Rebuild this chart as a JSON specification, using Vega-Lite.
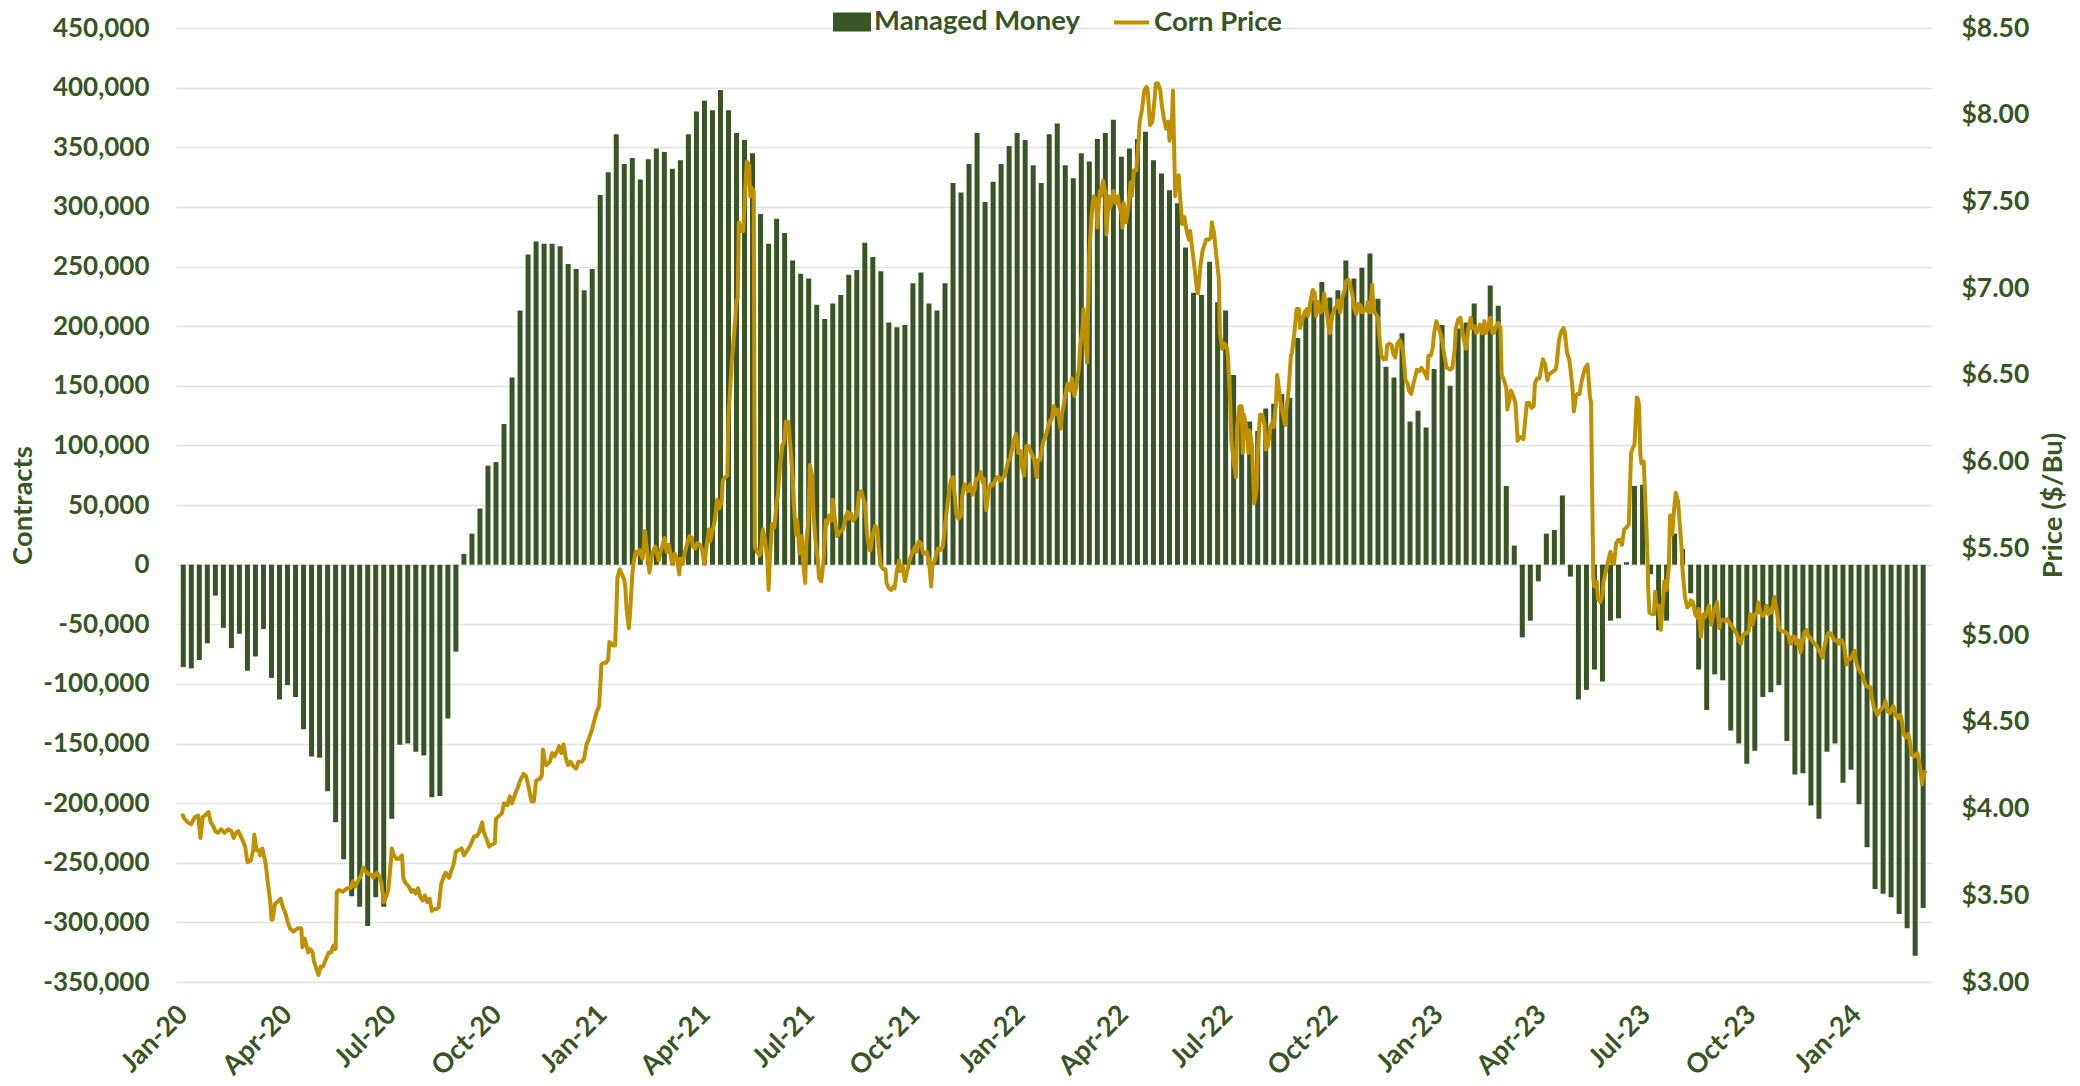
{
  "$schema": "https://vega.github.io/schema/vega-lite/v6.json",
  "width": 1756,
  "height": 954,
  "autosize": {"type": "none"},
  "padding": {"left": 176, "top": 28, "right": 148, "bottom": 104},
  "background": "white",
  "config": {"font": "Lato", "view": {"stroke": null}},
  "datasets": {
    "mm": [
      {"date":"2020-01-07","contracts":-86000},{"date":"2020-01-14","contracts":-87000},{"date":"2020-01-21","contracts":-80000},{"date":"2020-01-28","contracts":-66000},
      {"date":"2020-02-04","contracts":-26000},{"date":"2020-02-11","contracts":-53000},{"date":"2020-02-18","contracts":-70000},{"date":"2020-02-25","contracts":-58000},
      {"date":"2020-03-03","contracts":-89000},{"date":"2020-03-10","contracts":-77000},{"date":"2020-03-17","contracts":-54000},{"date":"2020-03-24","contracts":-95000},{"date":"2020-03-31","contracts":-113000},
      {"date":"2020-04-07","contracts":-101000},{"date":"2020-04-14","contracts":-111000},{"date":"2020-04-21","contracts":-138000},{"date":"2020-04-28","contracts":-161000},
      {"date":"2020-05-05","contracts":-162000},{"date":"2020-05-12","contracts":-190000},{"date":"2020-05-19","contracts":-216000},{"date":"2020-05-26","contracts":-247000},
      {"date":"2020-06-02","contracts":-278000},{"date":"2020-06-09","contracts":-287000},{"date":"2020-06-16","contracts":-303000},{"date":"2020-06-23","contracts":-279000},{"date":"2020-06-30","contracts":-287000},
      {"date":"2020-07-07","contracts":-213000},{"date":"2020-07-14","contracts":-151000},{"date":"2020-07-21","contracts":-150000},{"date":"2020-07-28","contracts":-157000},
      {"date":"2020-08-04","contracts":-160000},{"date":"2020-08-11","contracts":-195000},{"date":"2020-08-18","contracts":-194000},{"date":"2020-08-25","contracts":-129000},
      {"date":"2020-09-01","contracts":-73000},{"date":"2020-09-08","contracts":9000},{"date":"2020-09-15","contracts":26000},{"date":"2020-09-22","contracts":47000},{"date":"2020-09-29","contracts":83000},
      {"date":"2020-10-06","contracts":86000},{"date":"2020-10-13","contracts":118000},{"date":"2020-10-20","contracts":157000},{"date":"2020-10-27","contracts":213000},
      {"date":"2020-11-03","contracts":260000},{"date":"2020-11-10","contracts":271000},{"date":"2020-11-17","contracts":269000},{"date":"2020-11-24","contracts":269000},
      {"date":"2020-12-01","contracts":267000},{"date":"2020-12-08","contracts":252000},{"date":"2020-12-15","contracts":248000},{"date":"2020-12-22","contracts":230000},{"date":"2020-12-29","contracts":248000},
      {"date":"2021-01-05","contracts":310000},{"date":"2021-01-12","contracts":329000},{"date":"2021-01-19","contracts":361000},{"date":"2021-01-26","contracts":336000},
      {"date":"2021-02-02","contracts":341000},{"date":"2021-02-09","contracts":323000},{"date":"2021-02-16","contracts":340000},{"date":"2021-02-23","contracts":349000},
      {"date":"2021-03-02","contracts":346000},{"date":"2021-03-09","contracts":332000},{"date":"2021-03-16","contracts":339000},{"date":"2021-03-23","contracts":361000},{"date":"2021-03-30","contracts":380000},
      {"date":"2021-04-06","contracts":389000},{"date":"2021-04-13","contracts":381000},{"date":"2021-04-20","contracts":398000},{"date":"2021-04-27","contracts":381000},
      {"date":"2021-05-04","contracts":362000},{"date":"2021-05-11","contracts":356000},{"date":"2021-05-18","contracts":345000},{"date":"2021-05-25","contracts":294000},
      {"date":"2021-06-01","contracts":269000},{"date":"2021-06-08","contracts":290000},{"date":"2021-06-15","contracts":278000},{"date":"2021-06-22","contracts":255000},{"date":"2021-06-29","contracts":244000},
      {"date":"2021-07-06","contracts":240000},{"date":"2021-07-13","contracts":218000},{"date":"2021-07-20","contracts":206000},{"date":"2021-07-27","contracts":219000},
      {"date":"2021-08-03","contracts":226000},{"date":"2021-08-10","contracts":243000},{"date":"2021-08-17","contracts":247000},{"date":"2021-08-24","contracts":270000},{"date":"2021-08-31","contracts":258000},
      {"date":"2021-09-07","contracts":246000},{"date":"2021-09-14","contracts":203000},{"date":"2021-09-21","contracts":199000},{"date":"2021-09-28","contracts":201000},
      {"date":"2021-10-05","contracts":236000},{"date":"2021-10-12","contracts":245000},{"date":"2021-10-19","contracts":219000},{"date":"2021-10-26","contracts":213000},
      {"date":"2021-11-02","contracts":236000},{"date":"2021-11-09","contracts":320000},{"date":"2021-11-16","contracts":312000},{"date":"2021-11-23","contracts":336000},{"date":"2021-11-30","contracts":362000},
      {"date":"2021-12-07","contracts":304000},{"date":"2021-12-14","contracts":321000},{"date":"2021-12-21","contracts":336000},{"date":"2021-12-28","contracts":351000},
      {"date":"2022-01-04","contracts":362000},{"date":"2022-01-11","contracts":356000},{"date":"2022-01-18","contracts":335000},{"date":"2022-01-25","contracts":320000},
      {"date":"2022-02-01","contracts":361000},{"date":"2022-02-08","contracts":370000},{"date":"2022-02-15","contracts":335000},{"date":"2022-02-22","contracts":324000},
      {"date":"2022-03-01","contracts":345000},{"date":"2022-03-08","contracts":338000},{"date":"2022-03-15","contracts":357000},{"date":"2022-03-22","contracts":362000},{"date":"2022-03-29","contracts":373000},
      {"date":"2022-04-05","contracts":342000},{"date":"2022-04-12","contracts":349000},{"date":"2022-04-19","contracts":357000},{"date":"2022-04-26","contracts":363000},
      {"date":"2022-05-03","contracts":339000},{"date":"2022-05-10","contracts":328000},{"date":"2022-05-17","contracts":314000},{"date":"2022-05-24","contracts":303000},{"date":"2022-05-31","contracts":266000},
      {"date":"2022-06-07","contracts":228000},{"date":"2022-06-14","contracts":226000},{"date":"2022-06-21","contracts":254000},{"date":"2022-06-28","contracts":220000},
      {"date":"2022-07-05","contracts":213000},{"date":"2022-07-12","contracts":159000},{"date":"2022-07-19","contracts":130000},{"date":"2022-07-26","contracts":120000},
      {"date":"2022-08-02","contracts":112000},{"date":"2022-08-09","contracts":131000},{"date":"2022-08-16","contracts":135000},{"date":"2022-08-23","contracts":143000},{"date":"2022-08-30","contracts":140000},
      {"date":"2022-09-06","contracts":190000},{"date":"2022-09-13","contracts":210000},{"date":"2022-09-20","contracts":222000},{"date":"2022-09-27","contracts":237000},
      {"date":"2022-10-04","contracts":224000},{"date":"2022-10-11","contracts":230000},{"date":"2022-10-18","contracts":255000},{"date":"2022-10-25","contracts":240000},
      {"date":"2022-11-01","contracts":249000},{"date":"2022-11-08","contracts":261000},{"date":"2022-11-15","contracts":223000},{"date":"2022-11-22","contracts":166000},{"date":"2022-11-29","contracts":157000},
      {"date":"2022-12-06","contracts":194000},{"date":"2022-12-13","contracts":120000},{"date":"2022-12-20","contracts":129000},{"date":"2022-12-27","contracts":115000},
      {"date":"2023-01-03","contracts":164000},{"date":"2023-01-10","contracts":201000},{"date":"2023-01-17","contracts":150000},{"date":"2023-01-24","contracts":198000},{"date":"2023-01-31","contracts":203000},
      {"date":"2023-02-07","contracts":219000},{"date":"2023-02-14","contracts":196000},{"date":"2023-02-21","contracts":234000},{"date":"2023-02-28","contracts":217000},
      {"date":"2023-03-07","contracts":66000},{"date":"2023-03-14","contracts":16000},{"date":"2023-03-21","contracts":-61000},{"date":"2023-03-28","contracts":-47000},
      {"date":"2023-04-04","contracts":-14000},{"date":"2023-04-11","contracts":26000},{"date":"2023-04-18","contracts":29000},{"date":"2023-04-25","contracts":58000},
      {"date":"2023-05-02","contracts":-10000},{"date":"2023-05-09","contracts":-113000},{"date":"2023-05-16","contracts":-105000},{"date":"2023-05-23","contracts":-88000},{"date":"2023-05-30","contracts":-98000},
      {"date":"2023-06-06","contracts":-47000},{"date":"2023-06-13","contracts":-45000},{"date":"2023-06-20","contracts":2000},{"date":"2023-06-27","contracts":66000},
      {"date":"2023-07-04","contracts":67000},{"date":"2023-07-11","contracts":-8000},{"date":"2023-07-18","contracts":-55000},{"date":"2023-07-25","contracts":-47000},
      {"date":"2023-08-01","contracts":26000},{"date":"2023-08-08","contracts":13000},{"date":"2023-08-15","contracts":-24000},{"date":"2023-08-22","contracts":-88000},{"date":"2023-08-29","contracts":-122000},
      {"date":"2023-09-05","contracts":-92000},{"date":"2023-09-12","contracts":-97000},{"date":"2023-09-19","contracts":-139000},{"date":"2023-09-26","contracts":-150000},
      {"date":"2023-10-03","contracts":-167000},{"date":"2023-10-10","contracts":-156000},{"date":"2023-10-17","contracts":-111000},{"date":"2023-10-24","contracts":-107000},{"date":"2023-10-31","contracts":-101000},
      {"date":"2023-11-07","contracts":-148000},{"date":"2023-11-14","contracts":-176000},{"date":"2023-11-21","contracts":-175000},{"date":"2023-11-28","contracts":-202000},
      {"date":"2023-12-05","contracts":-213000},{"date":"2023-12-12","contracts":-157000},{"date":"2023-12-19","contracts":-150000},{"date":"2023-12-26","contracts":-183000},
      {"date":"2024-01-02","contracts":-172000},{"date":"2024-01-09","contracts":-201000},{"date":"2024-01-16","contracts":-237000},{"date":"2024-01-23","contracts":-272000},{"date":"2024-01-30","contracts":-276000},
      {"date":"2024-02-06","contracts":-279000},{"date":"2024-02-13","contracts":-293000},{"date":"2024-02-20","contracts":-305000},{"date":"2024-02-27","contracts":-328000},
      {"date":"2024-03-05","contracts":-288000}
    ],
    "corn": [
      {"date":"2020-01-06","price":3.97},{"date":"2020-01-08","price":3.94},{"date":"2020-01-11","price":3.92},{"date":"2020-01-14","price":3.91},{"date":"2020-01-17","price":3.95},{"date":"2020-01-20","price":3.96},{"date":"2020-01-22","price":3.83},{"date":"2020-01-24","price":3.95},{"date":"2020-01-26","price":3.96},{"date":"2020-01-29","price":3.98},{"date":"2020-01-31","price":3.92},
      {"date":"2020-02-02","price":3.90},{"date":"2020-02-04","price":3.87},{"date":"2020-02-06","price":3.86},{"date":"2020-02-09","price":3.88},{"date":"2020-02-12","price":3.86},{"date":"2020-02-15","price":3.88},{"date":"2020-02-18","price":3.87},{"date":"2020-02-20","price":3.83},{"date":"2020-02-22","price":3.86},{"date":"2020-02-24","price":3.87},{"date":"2020-02-27","price":3.83},
      {"date":"2020-03-01","price":3.78},{"date":"2020-03-03","price":3.69},{"date":"2020-03-06","price":3.70},{"date":"2020-03-08","price":3.76},{"date":"2020-03-09","price":3.85},{"date":"2020-03-11","price":3.76},{"date":"2020-03-13","price":3.76},{"date":"2020-03-14","price":3.73},{"date":"2020-03-16","price":3.77},{"date":"2020-03-19","price":3.68},{"date":"2020-03-21","price":3.56},{"date":"2020-03-23","price":3.46},{"date":"2020-03-24","price":3.36},{"date":"2020-03-25","price":3.36},{"date":"2020-03-27","price":3.45},{"date":"2020-03-29","price":3.46},
      {"date":"2020-04-01","price":3.48},{"date":"2020-04-03","price":3.43},{"date":"2020-04-05","price":3.40},{"date":"2020-04-07","price":3.35},{"date":"2020-04-09","price":3.31},{"date":"2020-04-12","price":3.29},{"date":"2020-04-14","price":3.30},{"date":"2020-04-16","price":3.31},{"date":"2020-04-19","price":3.31},{"date":"2020-04-20","price":3.20},{"date":"2020-04-22","price":3.25},{"date":"2020-04-25","price":3.17},{"date":"2020-04-27","price":3.19},{"date":"2020-04-29","price":3.17},{"date":"2020-04-30","price":3.12},
      {"date":"2020-05-03","price":3.06},{"date":"2020-05-04","price":3.04},{"date":"2020-05-06","price":3.09},{"date":"2020-05-08","price":3.09},{"date":"2020-05-11","price":3.14},{"date":"2020-05-13","price":3.17},{"date":"2020-05-15","price":3.17},{"date":"2020-05-17","price":3.21},{"date":"2020-05-19","price":3.19},{"date":"2020-05-20","price":3.52},{"date":"2020-05-22","price":3.53},{"date":"2020-05-25","price":3.52},{"date":"2020-05-27","price":3.53},{"date":"2020-05-29","price":3.54},
      {"date":"2020-06-01","price":3.54},{"date":"2020-06-03","price":3.58},{"date":"2020-06-05","price":3.55},{"date":"2020-06-08","price":3.59},{"date":"2020-06-10","price":3.61},{"date":"2020-06-12","price":3.66},{"date":"2020-06-14","price":3.64},{"date":"2020-06-17","price":3.62},{"date":"2020-06-19","price":3.62},{"date":"2020-06-21","price":3.60},{"date":"2020-06-24","price":3.63},{"date":"2020-06-26","price":3.61},{"date":"2020-06-28","price":3.57},{"date":"2020-06-30","price":3.46},
      {"date":"2020-07-02","price":3.49},{"date":"2020-07-04","price":3.53},{"date":"2020-07-06","price":3.68},{"date":"2020-07-07","price":3.77},{"date":"2020-07-09","price":3.73},{"date":"2020-07-11","price":3.71},{"date":"2020-07-13","price":3.71},{"date":"2020-07-16","price":3.73},{"date":"2020-07-17","price":3.60},{"date":"2020-07-19","price":3.57},{"date":"2020-07-22","price":3.55},{"date":"2020-07-24","price":3.52},{"date":"2020-07-26","price":3.53},{"date":"2020-07-28","price":3.51},{"date":"2020-07-30","price":3.54},
      {"date":"2020-08-01","price":3.49},{"date":"2020-08-03","price":3.47},{"date":"2020-08-05","price":3.50},{"date":"2020-08-07","price":3.46},{"date":"2020-08-09","price":3.48},{"date":"2020-08-11","price":3.41},{"date":"2020-08-12","price":3.42},{"date":"2020-08-15","price":3.42},{"date":"2020-08-17","price":3.43},{"date":"2020-08-19","price":3.56},{"date":"2020-08-21","price":3.60},{"date":"2020-08-23","price":3.63},{"date":"2020-08-26","price":3.60},{"date":"2020-08-28","price":3.64},{"date":"2020-08-30","price":3.68},
      {"date":"2020-09-01","price":3.75},{"date":"2020-09-03","price":3.76},{"date":"2020-09-06","price":3.77},{"date":"2020-09-08","price":3.73},{"date":"2020-09-10","price":3.75},{"date":"2020-09-13","price":3.78},{"date":"2020-09-15","price":3.81},{"date":"2020-09-17","price":3.84},{"date":"2020-09-19","price":3.84},{"date":"2020-09-21","price":3.86},{"date":"2020-09-24","price":3.92},{"date":"2020-09-25","price":3.87},{"date":"2020-09-28","price":3.82},{"date":"2020-09-30","price":3.78},
      {"date":"2020-10-02","price":3.79},{"date":"2020-10-05","price":3.80},{"date":"2020-10-06","price":3.94},{"date":"2020-10-09","price":3.96},{"date":"2020-10-11","price":3.97},{"date":"2020-10-13","price":4.03},{"date":"2020-10-16","price":4.02},{"date":"2020-10-18","price":4.07},{"date":"2020-10-20","price":4.03},{"date":"2020-10-23","price":4.09},{"date":"2020-10-25","price":4.12},{"date":"2020-10-27","price":4.16},{"date":"2020-10-30","price":4.20},
      {"date":"2020-11-01","price":4.19},{"date":"2020-11-03","price":4.14},{"date":"2020-11-06","price":4.04},{"date":"2020-11-08","price":4.04},{"date":"2020-11-10","price":4.16},{"date":"2020-11-13","price":4.17},{"date":"2020-11-15","price":4.19},{"date":"2020-11-16","price":4.34},{"date":"2020-11-18","price":4.26},{"date":"2020-11-19","price":4.25},{"date":"2020-11-22","price":4.27},{"date":"2020-11-24","price":4.32},{"date":"2020-11-26","price":4.30},{"date":"2020-11-29","price":4.34},{"date":"2020-11-30","price":4.36},
      {"date":"2020-12-02","price":4.32},{"date":"2020-12-04","price":4.37},{"date":"2020-12-06","price":4.29},{"date":"2020-12-08","price":4.25},{"date":"2020-12-10","price":4.27},{"date":"2020-12-13","price":4.24},{"date":"2020-12-15","price":4.23},{"date":"2020-12-17","price":4.27},{"date":"2020-12-20","price":4.27},{"date":"2020-12-22","price":4.29},{"date":"2020-12-24","price":4.37},{"date":"2020-12-26","price":4.40},{"date":"2020-12-29","price":4.46},{"date":"2020-12-31","price":4.51},
      {"date":"2021-01-02","price":4.56},{"date":"2021-01-04","price":4.59},{"date":"2021-01-05","price":4.70},{"date":"2021-01-06","price":4.83},{"date":"2021-01-08","price":4.84},{"date":"2021-01-10","price":4.84},{"date":"2021-01-12","price":4.86},{"date":"2021-01-13","price":4.96},{"date":"2021-01-15","price":4.95},{"date":"2021-01-16","price":4.94},{"date":"2021-01-18","price":4.94},{"date":"2021-01-19","price":5.12},{"date":"2021-01-20","price":5.33},{"date":"2021-01-22","price":5.38},{"date":"2021-01-24","price":5.35},{"date":"2021-01-26","price":5.32},{"date":"2021-01-27","price":5.27},{"date":"2021-01-28","price":5.15},{"date":"2021-01-30","price":5.04},{"date":"2021-01-31","price":5.12},
      {"date":"2021-02-02","price":5.35},{"date":"2021-02-03","price":5.41},{"date":"2021-02-05","price":5.48},{"date":"2021-02-07","price":5.47},{"date":"2021-02-08","price":5.49},{"date":"2021-02-11","price":5.44},{"date":"2021-02-13","price":5.60},{"date":"2021-02-15","price":5.48},{"date":"2021-02-17","price":5.36},{"date":"2021-02-18","price":5.41},{"date":"2021-02-20","price":5.48},{"date":"2021-02-22","price":5.51},{"date":"2021-02-24","price":5.46},{"date":"2021-02-25","price":5.43},{"date":"2021-02-27","price":5.49},
      {"date":"2021-03-01","price":5.53},{"date":"2021-03-02","price":5.56},{"date":"2021-03-04","price":5.48},{"date":"2021-03-06","price":5.52},{"date":"2021-03-08","price":5.44},{"date":"2021-03-09","price":5.41},{"date":"2021-03-11","price":5.47},{"date":"2021-03-13","price":5.44},{"date":"2021-03-15","price":5.35},{"date":"2021-03-16","price":5.44},{"date":"2021-03-18","price":5.41},{"date":"2021-03-20","price":5.48},{"date":"2021-03-22","price":5.53},{"date":"2021-03-24","price":5.57},{"date":"2021-03-26","price":5.56},{"date":"2021-03-27","price":5.51},{"date":"2021-03-29","price":5.50},{"date":"2021-03-31","price":5.53},
      {"date":"2021-04-02","price":5.52},{"date":"2021-04-04","price":5.49},{"date":"2021-04-06","price":5.41},{"date":"2021-04-08","price":5.52},{"date":"2021-04-10","price":5.61},{"date":"2021-04-11","price":5.54},{"date":"2021-04-13","price":5.60},{"date":"2021-04-15","price":5.66},{"date":"2021-04-17","price":5.78},{"date":"2021-04-19","price":5.73},{"date":"2021-04-21","price":5.77},{"date":"2021-04-22","price":5.89},{"date":"2021-04-24","price":5.91},{"date":"2021-04-26","price":5.92},{"date":"2021-04-27","price":6.27},{"date":"2021-04-29","price":6.48},{"date":"2021-04-30","price":6.59},
      {"date":"2021-05-02","price":6.74},{"date":"2021-05-04","price":6.93},{"date":"2021-05-05","price":6.94},{"date":"2021-05-06","price":7.38},{"date":"2021-05-08","price":7.33},{"date":"2021-05-10","price":7.33},{"date":"2021-05-11","price":7.49},{"date":"2021-05-13","price":7.73},{"date":"2021-05-15","price":7.71},{"date":"2021-05-16","price":7.53},{"date":"2021-05-17","price":7.58},{"date":"2021-05-19","price":7.56},{"date":"2021-05-20","price":5.51},{"date":"2021-05-22","price":5.48},{"date":"2021-05-24","price":5.46},{"date":"2021-05-25","price":5.47},{"date":"2021-05-27","price":5.61},{"date":"2021-05-29","price":5.54},{"date":"2021-05-31","price":5.43},
      {"date":"2021-06-01","price":5.26},{"date":"2021-06-02","price":5.43},{"date":"2021-06-04","price":5.64},{"date":"2021-06-06","price":5.62},{"date":"2021-06-08","price":5.76},{"date":"2021-06-09","price":5.80},{"date":"2021-06-11","price":5.98},{"date":"2021-06-13","price":6.09},{"date":"2021-06-15","price":6.13},{"date":"2021-06-16","price":6.23},{"date":"2021-06-18","price":6.23},{"date":"2021-06-20","price":6.09},{"date":"2021-06-22","price":5.91},{"date":"2021-06-23","price":5.76},{"date":"2021-06-25","price":5.58},{"date":"2021-06-26","price":5.66},{"date":"2021-06-28","price":5.47},{"date":"2021-06-30","price":5.57},
      {"date":"2021-07-01","price":5.43},{"date":"2021-07-03","price":5.30},{"date":"2021-07-04","price":5.54},{"date":"2021-07-06","price":5.69},{"date":"2021-07-07","price":5.98},{"date":"2021-07-09","price":5.92},{"date":"2021-07-10","price":5.72},{"date":"2021-07-12","price":5.54},{"date":"2021-07-14","price":5.43},{"date":"2021-07-15","price":5.33},{"date":"2021-07-17","price":5.31},{"date":"2021-07-19","price":5.43},{"date":"2021-07-21","price":5.66},{"date":"2021-07-22","price":5.64},{"date":"2021-07-24","price":5.69},{"date":"2021-07-26","price":5.66},{"date":"2021-07-27","price":5.78},{"date":"2021-07-29","price":5.66},{"date":"2021-07-31","price":5.57},
      {"date":"2021-08-02","price":5.59},{"date":"2021-08-03","price":5.60},{"date":"2021-08-05","price":5.61},{"date":"2021-08-07","price":5.68},{"date":"2021-08-09","price":5.71},{"date":"2021-08-10","price":5.67},{"date":"2021-08-12","price":5.70},{"date":"2021-08-14","price":5.66},{"date":"2021-08-16","price":5.68},{"date":"2021-08-17","price":5.69},{"date":"2021-08-19","price":5.82},{"date":"2021-08-21","price":5.83},{"date":"2021-08-22","price":5.80},{"date":"2021-08-24","price":5.76},{"date":"2021-08-26","price":5.58},{"date":"2021-08-28","price":5.49},{"date":"2021-08-29","price":5.49},{"date":"2021-08-31","price":5.58},
      {"date":"2021-09-02","price":5.63},{"date":"2021-09-04","price":5.61},{"date":"2021-09-05","price":5.51},{"date":"2021-09-07","price":5.40},{"date":"2021-09-09","price":5.38},{"date":"2021-09-11","price":5.38},{"date":"2021-09-12","price":5.30},{"date":"2021-09-14","price":5.27},{"date":"2021-09-16","price":5.26},{"date":"2021-09-18","price":5.28},{"date":"2021-09-19","price":5.27},{"date":"2021-09-21","price":5.37},{"date":"2021-09-23","price":5.43},{"date":"2021-09-24","price":5.37},{"date":"2021-09-26","price":5.40},{"date":"2021-09-28","price":5.31},{"date":"2021-09-30","price":5.37},
      {"date":"2021-10-01","price":5.40},{"date":"2021-10-03","price":5.45},{"date":"2021-10-05","price":5.48},{"date":"2021-10-07","price":5.51},{"date":"2021-10-08","price":5.48},{"date":"2021-10-10","price":5.54},{"date":"2021-10-12","price":5.53},{"date":"2021-10-14","price":5.47},{"date":"2021-10-15","price":5.47},{"date":"2021-10-17","price":5.48},{"date":"2021-10-19","price":5.43},{"date":"2021-10-21","price":5.28},{"date":"2021-10-22","price":5.40},{"date":"2021-10-24","price":5.43},{"date":"2021-10-26","price":5.48},{"date":"2021-10-27","price":5.50},{"date":"2021-10-29","price":5.49},{"date":"2021-10-31","price":5.51},
      {"date":"2021-11-02","price":5.62},{"date":"2021-11-03","price":5.69},{"date":"2021-11-05","price":5.80},{"date":"2021-11-07","price":5.89},{"date":"2021-11-09","price":5.91},{"date":"2021-11-10","price":5.84},{"date":"2021-11-12","price":5.69},{"date":"2021-11-14","price":5.67},{"date":"2021-11-16","price":5.69},{"date":"2021-11-17","price":5.80},{"date":"2021-11-19","price":5.87},{"date":"2021-11-21","price":5.84},{"date":"2021-11-22","price":5.83},{"date":"2021-11-24","price":5.87},{"date":"2021-11-26","price":5.81},{"date":"2021-11-28","price":5.84},{"date":"2021-11-29","price":5.90},
      {"date":"2021-12-01","price":5.90},{"date":"2021-12-03","price":5.94},{"date":"2021-12-05","price":5.88},{"date":"2021-12-06","price":5.90},{"date":"2021-12-08","price":5.72},{"date":"2021-12-10","price":5.83},{"date":"2021-12-12","price":5.87},{"date":"2021-12-13","price":5.86},{"date":"2021-12-15","price":5.88},{"date":"2021-12-17","price":5.91},{"date":"2021-12-19","price":5.91},{"date":"2021-12-20","price":5.89},{"date":"2021-12-22","price":5.90},{"date":"2021-12-24","price":5.92},{"date":"2021-12-25","price":5.94},{"date":"2021-12-27","price":6.00},{"date":"2021-12-29","price":6.02},{"date":"2021-12-31","price":6.09},
      {"date":"2022-01-01","price":6.12},{"date":"2022-01-03","price":6.16},{"date":"2022-01-05","price":6.05},{"date":"2022-01-07","price":6.06},{"date":"2022-01-08","price":5.98},{"date":"2022-01-10","price":5.92},{"date":"2022-01-12","price":6.09},{"date":"2022-01-14","price":6.09},{"date":"2022-01-15","price":6.07},{"date":"2022-01-17","price":6.04},{"date":"2022-01-19","price":6.01},{"date":"2022-01-21","price":5.91},{"date":"2022-01-22","price":6.01},{"date":"2022-01-24","price":6.01},{"date":"2022-01-26","price":6.09},{"date":"2022-01-27","price":6.12},{"date":"2022-01-29","price":6.15},{"date":"2022-01-31","price":6.20},
      {"date":"2022-02-02","price":6.24},{"date":"2022-02-03","price":6.24},{"date":"2022-02-05","price":6.32},{"date":"2022-02-06","price":6.27},{"date":"2022-02-08","price":6.30},{"date":"2022-02-10","price":6.23},{"date":"2022-02-11","price":6.19},{"date":"2022-02-12","price":6.27},{"date":"2022-02-14","price":6.34},{"date":"2022-02-16","price":6.42},{"date":"2022-02-17","price":6.45},{"date":"2022-02-19","price":6.41},{"date":"2022-02-21","price":6.48},{"date":"2022-02-22","price":6.41},{"date":"2022-02-23","price":6.38},{"date":"2022-02-25","price":6.45},{"date":"2022-02-27","price":6.54},{"date":"2022-02-28","price":6.66},
      {"date":"2022-03-02","price":6.77},{"date":"2022-03-03","price":6.88},{"date":"2022-03-04","price":6.77},{"date":"2022-03-06","price":6.57},{"date":"2022-03-07","price":6.88},{"date":"2022-03-08","price":7.20},{"date":"2022-03-10","price":7.42},{"date":"2022-03-11","price":7.49},{"date":"2022-03-12","price":7.53},{"date":"2022-03-14","price":7.51},{"date":"2022-03-15","price":7.35},{"date":"2022-03-17","price":7.56},{"date":"2022-03-18","price":7.53},{"date":"2022-03-20","price":7.62},{"date":"2022-03-22","price":7.55},{"date":"2022-03-23","price":7.31},{"date":"2022-03-25","price":7.53},{"date":"2022-03-26","price":7.46},{"date":"2022-03-28","price":7.51},{"date":"2022-03-29","price":7.56},{"date":"2022-03-31","price":7.49},
      {"date":"2022-04-02","price":7.53},{"date":"2022-04-03","price":7.48},{"date":"2022-04-05","price":7.43},{"date":"2022-04-06","price":7.35},{"date":"2022-04-07","price":7.49},{"date":"2022-04-09","price":7.38},{"date":"2022-04-11","price":7.46},{"date":"2022-04-13","price":7.61},{"date":"2022-04-14","price":7.53},{"date":"2022-04-16","price":7.68},{"date":"2022-04-18","price":7.68},{"date":"2022-04-20","price":7.85},{"date":"2022-04-21","price":7.96},{"date":"2022-04-23","price":8.03},{"date":"2022-04-25","price":8.14},{"date":"2022-04-27","price":8.16},{"date":"2022-04-28","price":8.14},{"date":"2022-04-30","price":7.94},
      {"date":"2022-05-02","price":7.96},{"date":"2022-05-04","price":8.09},{"date":"2022-05-05","price":8.18},{"date":"2022-05-07","price":8.18},{"date":"2022-05-09","price":8.14},{"date":"2022-05-10","price":8.07},{"date":"2022-05-12","price":7.98},{"date":"2022-05-14","price":7.92},{"date":"2022-05-16","price":7.96},{"date":"2022-05-17","price":7.85},{"date":"2022-05-19","price":7.92},{"date":"2022-05-20","price":8.14},{"date":"2022-05-21","price":7.82},{"date":"2022-05-22","price":7.53},{"date":"2022-05-23","price":7.62},{"date":"2022-05-25","price":7.65},{"date":"2022-05-27","price":7.46},{"date":"2022-05-28","price":7.37},{"date":"2022-05-30","price":7.41},
      {"date":"2022-06-01","price":7.33},{"date":"2022-06-03","price":7.28},{"date":"2022-06-04","price":7.33},{"date":"2022-06-06","price":7.22},{"date":"2022-06-08","price":7.11},{"date":"2022-06-10","price":6.99},{"date":"2022-06-11","price":6.97},{"date":"2022-06-13","price":7.13},{"date":"2022-06-15","price":7.22},{"date":"2022-06-17","price":7.26},{"date":"2022-06-18","price":7.28},{"date":"2022-06-20","price":7.28},{"date":"2022-06-22","price":7.29},{"date":"2022-06-23","price":7.38},{"date":"2022-06-25","price":7.31},{"date":"2022-06-27","price":7.18},{"date":"2022-06-29","price":7.06},{"date":"2022-06-30","price":6.74},
      {"date":"2022-07-02","price":6.65},{"date":"2022-07-04","price":6.68},{"date":"2022-07-06","price":6.66},{"date":"2022-07-07","price":6.61},{"date":"2022-07-09","price":6.34},{"date":"2022-07-10","price":6.12},{"date":"2022-07-12","price":6.00},{"date":"2022-07-14","price":5.91},{"date":"2022-07-15","price":6.20},{"date":"2022-07-17","price":6.32},{"date":"2022-07-19","price":6.32},{"date":"2022-07-20","price":6.05},{"date":"2022-07-21","price":6.27},{"date":"2022-07-23","price":6.20},{"date":"2022-07-25","price":6.05},{"date":"2022-07-26","price":6.18},{"date":"2022-07-28","price":6.09},{"date":"2022-07-30","price":5.76},
      {"date":"2022-08-01","price":5.84},{"date":"2022-08-02","price":6.05},{"date":"2022-08-04","price":6.27},{"date":"2022-08-06","price":6.27},{"date":"2022-08-08","price":6.21},{"date":"2022-08-09","price":6.07},{"date":"2022-08-11","price":6.09},{"date":"2022-08-13","price":6.20},{"date":"2022-08-15","price":6.23},{"date":"2022-08-16","price":6.20},{"date":"2022-08-18","price":6.34},{"date":"2022-08-19","price":6.50},{"date":"2022-08-20","price":6.45},{"date":"2022-08-22","price":6.34},{"date":"2022-08-24","price":6.27},{"date":"2022-08-26","price":6.21},{"date":"2022-08-27","price":6.30},{"date":"2022-08-29","price":6.41},{"date":"2022-08-31","price":6.61},
      {"date":"2022-09-01","price":6.63},{"date":"2022-09-03","price":6.74},{"date":"2022-09-05","price":6.88},{"date":"2022-09-07","price":6.88},{"date":"2022-09-08","price":6.77},{"date":"2022-09-10","price":6.82},{"date":"2022-09-12","price":6.86},{"date":"2022-09-14","price":6.88},{"date":"2022-09-15","price":6.84},{"date":"2022-09-17","price":6.92},{"date":"2022-09-19","price":6.99},{"date":"2022-09-21","price":6.97},{"date":"2022-09-22","price":6.84},{"date":"2022-09-24","price":6.92},{"date":"2022-09-26","price":6.86},{"date":"2022-09-28","price":6.88},{"date":"2022-09-29","price":6.97},
      {"date":"2022-10-01","price":6.88},{"date":"2022-10-03","price":6.77},{"date":"2022-10-04","price":6.74},{"date":"2022-10-06","price":6.84},{"date":"2022-10-08","price":6.88},{"date":"2022-10-10","price":6.90},{"date":"2022-10-11","price":6.93},{"date":"2022-10-13","price":6.86},{"date":"2022-10-15","price":6.95},{"date":"2022-10-17","price":6.99},{"date":"2022-10-18","price":7.04},{"date":"2022-10-20","price":7.05},{"date":"2022-10-22","price":7.01},{"date":"2022-10-24","price":6.95},{"date":"2022-10-25","price":6.89},{"date":"2022-10-27","price":6.85},{"date":"2022-10-29","price":6.91},{"date":"2022-10-31","price":6.90},
      {"date":"2022-11-01","price":6.86},{"date":"2022-11-03","price":6.88},{"date":"2022-11-05","price":6.87},{"date":"2022-11-06","price":6.92},{"date":"2022-11-08","price":6.86},{"date":"2022-11-10","price":7.02},{"date":"2022-11-11","price":6.88},{"date":"2022-11-13","price":6.85},{"date":"2022-11-15","price":6.83},{"date":"2022-11-16","price":6.74},{"date":"2022-11-18","price":6.61},{"date":"2022-11-20","price":6.59},{"date":"2022-11-22","price":6.59},{"date":"2022-11-23","price":6.67},{"date":"2022-11-25","price":6.68},{"date":"2022-11-27","price":6.67},{"date":"2022-11-28","price":6.63},{"date":"2022-11-30","price":6.60},
      {"date":"2022-12-02","price":6.68},{"date":"2022-12-04","price":6.70},{"date":"2022-12-05","price":6.69},{"date":"2022-12-07","price":6.63},{"date":"2022-12-09","price":6.47},{"date":"2022-12-11","price":6.45},{"date":"2022-12-12","price":6.41},{"date":"2022-12-14","price":6.39},{"date":"2022-12-16","price":6.45},{"date":"2022-12-18","price":6.50},{"date":"2022-12-19","price":6.53},{"date":"2022-12-21","price":6.52},{"date":"2022-12-23","price":6.54},{"date":"2022-12-24","price":6.53},{"date":"2022-12-26","price":6.51},{"date":"2022-12-28","price":6.48},{"date":"2022-12-29","price":6.61},{"date":"2022-12-31","price":6.61},
      {"date":"2023-01-02","price":6.66},{"date":"2023-01-03","price":6.74},{"date":"2023-01-05","price":6.81},{"date":"2023-01-07","price":6.77},{"date":"2023-01-09","price":6.73},{"date":"2023-01-10","price":6.70},{"date":"2023-01-12","price":6.61},{"date":"2023-01-14","price":6.54},{"date":"2023-01-15","price":6.54},{"date":"2023-01-17","price":6.53},{"date":"2023-01-19","price":6.54},{"date":"2023-01-21","price":6.65},{"date":"2023-01-22","price":6.77},{"date":"2023-01-24","price":6.82},{"date":"2023-01-26","price":6.83},{"date":"2023-01-28","price":6.74},{"date":"2023-01-29","price":6.70},{"date":"2023-01-31","price":6.65},
      {"date":"2023-02-02","price":6.77},{"date":"2023-02-04","price":6.83},{"date":"2023-02-05","price":6.77},{"date":"2023-02-07","price":6.78},{"date":"2023-02-09","price":6.74},{"date":"2023-02-11","price":6.77},{"date":"2023-02-12","price":6.79},{"date":"2023-02-14","price":6.74},{"date":"2023-02-16","price":6.81},{"date":"2023-02-17","price":6.74},{"date":"2023-02-19","price":6.77},{"date":"2023-02-21","price":6.83},{"date":"2023-02-23","price":6.74},{"date":"2023-02-24","price":6.74},{"date":"2023-02-26","price":6.78},{"date":"2023-02-28","price":6.80},
      {"date":"2023-03-02","price":6.77},{"date":"2023-03-03","price":6.50},{"date":"2023-03-05","price":6.47},{"date":"2023-03-07","price":6.43},{"date":"2023-03-08","price":6.30},{"date":"2023-03-10","price":6.36},{"date":"2023-03-11","price":6.41},{"date":"2023-03-13","price":6.38},{"date":"2023-03-15","price":6.34},{"date":"2023-03-17","price":6.12},{"date":"2023-03-18","price":6.14},{"date":"2023-03-20","price":6.14},{"date":"2023-03-22","price":6.13},{"date":"2023-03-24","price":6.27},{"date":"2023-03-25","price":6.34},{"date":"2023-03-27","price":6.34},{"date":"2023-03-29","price":6.31},{"date":"2023-03-31","price":6.32},
      {"date":"2023-04-01","price":6.45},{"date":"2023-04-03","price":6.48},{"date":"2023-04-05","price":6.48},{"date":"2023-04-06","price":6.52},{"date":"2023-04-08","price":6.59},{"date":"2023-04-10","price":6.56},{"date":"2023-04-12","price":6.47},{"date":"2023-04-13","price":6.50},{"date":"2023-04-15","price":6.51},{"date":"2023-04-17","price":6.52},{"date":"2023-04-19","price":6.53},{"date":"2023-04-20","price":6.56},{"date":"2023-04-22","price":6.70},{"date":"2023-04-24","price":6.75},{"date":"2023-04-26","price":6.77},{"date":"2023-04-27","price":6.75},{"date":"2023-04-29","price":6.63},
      {"date":"2023-05-01","price":6.59},{"date":"2023-05-03","price":6.48},{"date":"2023-05-04","price":6.41},{"date":"2023-05-05","price":6.29},{"date":"2023-05-07","price":6.38},{"date":"2023-05-08","price":6.39},{"date":"2023-05-10","price":6.39},{"date":"2023-05-12","price":6.47},{"date":"2023-05-14","price":6.52},{"date":"2023-05-15","price":6.54},{"date":"2023-05-17","price":6.56},{"date":"2023-05-18","price":6.47},{"date":"2023-05-19","price":6.38},{"date":"2023-05-20","price":6.34},{"date":"2023-05-22","price":5.33},{"date":"2023-05-23","price":5.28},{"date":"2023-05-25","price":5.31},{"date":"2023-05-26","price":5.21},{"date":"2023-05-28","price":5.19},{"date":"2023-05-30","price":5.23},{"date":"2023-05-31","price":5.31},
      {"date":"2023-06-02","price":5.37},{"date":"2023-06-04","price":5.43},{"date":"2023-06-06","price":5.48},{"date":"2023-06-07","price":5.42},{"date":"2023-06-09","price":5.41},{"date":"2023-06-11","price":5.53},{"date":"2023-06-13","price":5.55},{"date":"2023-06-14","price":5.55},{"date":"2023-06-16","price":5.52},{"date":"2023-06-18","price":5.61},{"date":"2023-06-20","price":5.62},{"date":"2023-06-22","price":5.64},{"date":"2023-06-24","price":6.05},{"date":"2023-06-25","price":6.07},{"date":"2023-06-27","price":6.10},{"date":"2023-06-29","price":6.37},{"date":"2023-06-30","price":6.36},
      {"date":"2023-07-01","price":6.32},{"date":"2023-07-02","price":6.05},{"date":"2023-07-03","price":5.99},{"date":"2023-07-05","price":6.00},{"date":"2023-07-06","price":5.84},{"date":"2023-07-08","price":5.51},{"date":"2023-07-09","price":5.26},{"date":"2023-07-10","price":5.13},{"date":"2023-07-12","price":5.12},{"date":"2023-07-14","price":5.12},{"date":"2023-07-15","price":5.25},{"date":"2023-07-16","price":5.17},{"date":"2023-07-18","price":5.17},{"date":"2023-07-20","price":5.03},{"date":"2023-07-21","price":5.13},{"date":"2023-07-23","price":5.31},{"date":"2023-07-25","price":5.26},{"date":"2023-07-27","price":5.40},{"date":"2023-07-28","price":5.69},{"date":"2023-07-30","price":5.58},{"date":"2023-07-31","price":5.69},
      {"date":"2023-08-02","price":5.82},{"date":"2023-08-04","price":5.77},{"date":"2023-08-05","price":5.68},{"date":"2023-08-07","price":5.51},{"date":"2023-08-08","price":5.37},{"date":"2023-08-10","price":5.22},{"date":"2023-08-12","price":5.16},{"date":"2023-08-14","price":5.17},{"date":"2023-08-15","price":5.20},{"date":"2023-08-17","price":5.19},{"date":"2023-08-19","price":5.12},{"date":"2023-08-21","price":5.10},{"date":"2023-08-22","price":5.15},{"date":"2023-08-24","price":4.99},{"date":"2023-08-26","price":5.12},{"date":"2023-08-27","price":5.10},{"date":"2023-08-29","price":5.13},{"date":"2023-08-31","price":5.17},
      {"date":"2023-09-02","price":5.06},{"date":"2023-09-03","price":5.10},{"date":"2023-09-05","price":5.15},{"date":"2023-09-07","price":5.19},{"date":"2023-09-09","price":5.04},{"date":"2023-09-10","price":5.08},{"date":"2023-09-12","price":5.09},{"date":"2023-09-14","price":5.08},{"date":"2023-09-16","price":5.09},{"date":"2023-09-17","price":5.08},{"date":"2023-09-19","price":5.06},{"date":"2023-09-21","price":5.04},{"date":"2023-09-22","price":5.03},{"date":"2023-09-24","price":5.01},{"date":"2023-09-26","price":4.97},{"date":"2023-09-28","price":4.95},{"date":"2023-09-29","price":4.99},
      {"date":"2023-10-01","price":5.01},{"date":"2023-10-03","price":5.01},{"date":"2023-10-05","price":5.03},{"date":"2023-10-06","price":5.12},{"date":"2023-10-08","price":5.06},{"date":"2023-10-10","price":5.12},{"date":"2023-10-12","price":5.13},{"date":"2023-10-13","price":5.19},{"date":"2023-10-15","price":5.13},{"date":"2023-10-17","price":5.11},{"date":"2023-10-19","price":5.13},{"date":"2023-10-20","price":5.17},{"date":"2023-10-22","price":5.12},{"date":"2023-10-24","price":5.15},{"date":"2023-10-25","price":5.13},{"date":"2023-10-27","price":5.22},{"date":"2023-10-29","price":5.15},{"date":"2023-10-31","price":5.05},
      {"date":"2023-11-01","price":5.03},{"date":"2023-11-03","price":5.02},{"date":"2023-11-05","price":5.02},{"date":"2023-11-07","price":5.01},{"date":"2023-11-08","price":5.00},{"date":"2023-11-10","price":4.95},{"date":"2023-11-12","price":4.99},{"date":"2023-11-14","price":4.99},{"date":"2023-11-15","price":4.95},{"date":"2023-11-17","price":4.97},{"date":"2023-11-19","price":4.90},{"date":"2023-11-21","price":4.97},{"date":"2023-11-22","price":5.01},{"date":"2023-11-24","price":5.03},{"date":"2023-11-26","price":4.99},{"date":"2023-11-27","price":4.99},{"date":"2023-11-29","price":4.97},
      {"date":"2023-12-01","price":4.95},{"date":"2023-12-03","price":4.94},{"date":"2023-12-04","price":4.92},{"date":"2023-12-06","price":4.90},{"date":"2023-12-08","price":4.87},{"date":"2023-12-10","price":4.94},{"date":"2023-12-11","price":4.97},{"date":"2023-12-13","price":5.01},{"date":"2023-12-15","price":5.01},{"date":"2023-12-17","price":4.99},{"date":"2023-12-18","price":4.97},{"date":"2023-12-20","price":4.97},{"date":"2023-12-22","price":4.95},{"date":"2023-12-23","price":4.97},{"date":"2023-12-25","price":4.97},{"date":"2023-12-27","price":4.94},{"date":"2023-12-29","price":4.83},{"date":"2023-12-30","price":4.86},
      {"date":"2024-01-01","price":4.86},{"date":"2024-01-03","price":4.88},{"date":"2024-01-05","price":4.91},{"date":"2024-01-06","price":4.86},{"date":"2024-01-08","price":4.81},{"date":"2024-01-10","price":4.79},{"date":"2024-01-12","price":4.77},{"date":"2024-01-13","price":4.74},{"date":"2024-01-15","price":4.71},{"date":"2024-01-17","price":4.70},{"date":"2024-01-19","price":4.70},{"date":"2024-01-20","price":4.65},{"date":"2024-01-22","price":4.58},{"date":"2024-01-24","price":4.56},{"date":"2024-01-25","price":4.54},{"date":"2024-01-27","price":4.56},{"date":"2024-01-29","price":4.58},{"date":"2024-01-31","price":4.59},
      {"date":"2024-02-01","price":4.62},{"date":"2024-02-03","price":4.56},{"date":"2024-02-05","price":4.55},{"date":"2024-02-07","price":4.58},{"date":"2024-02-08","price":4.59},{"date":"2024-02-10","price":4.54},{"date":"2024-02-12","price":4.52},{"date":"2024-02-14","price":4.54},{"date":"2024-02-15","price":4.52},{"date":"2024-02-17","price":4.43},{"date":"2024-02-19","price":4.41},{"date":"2024-02-21","price":4.43},{"date":"2024-02-22","price":4.40},{"date":"2024-02-24","price":4.31},{"date":"2024-02-26","price":4.30},{"date":"2024-02-27","price":4.31},{"date":"2024-02-29","price":4.32},
      {"date":"2024-03-02","price":4.25},{"date":"2024-03-04","price":4.14},{"date":"2024-03-05","price":4.19},{"date":"2024-03-07","price":4.22}
    ]
  },
  "layer": [
    {
      "layer": [
        {
          "data": {"name": "mm"},
          "mark": {"type": "bar", "size": 5, "color": "#375623"},
          "encoding": {
            "x": {
              "field": "date", "type": "temporal",
              "scale": {"type": "utc", "domain": [{"year": 2020, "month": 1, "date": 5, "utc": true}, {"year": 2024, "month": 3, "date": 8, "hours": 8, "utc": true}]},
              "axis": {
                "title": null,
                "labelExpr": "utcFormat(datum.value, '%b-%y')",
                "values": [
                  {"year": 2020, "month": 1, "date": 7, "utc": true}, {"year": 2020, "month": 4, "date": 7, "utc": true}, {"year": 2020, "month": 7, "date": 7, "utc": true}, {"year": 2020, "month": 10, "date": 7, "utc": true},
                  {"year": 2021, "month": 1, "date": 7, "utc": true}, {"year": 2021, "month": 4, "date": 7, "utc": true}, {"year": 2021, "month": 7, "date": 7, "utc": true}, {"year": 2021, "month": 10, "date": 7, "utc": true},
                  {"year": 2022, "month": 1, "date": 7, "utc": true}, {"year": 2022, "month": 4, "date": 7, "utc": true}, {"year": 2022, "month": 7, "date": 7, "utc": true}, {"year": 2022, "month": 10, "date": 7, "utc": true},
                  {"year": 2023, "month": 1, "date": 7, "utc": true}, {"year": 2023, "month": 4, "date": 7, "utc": true}, {"year": 2023, "month": 7, "date": 7, "utc": true}, {"year": 2023, "month": 10, "date": 7, "utc": true},
                  {"year": 2024, "month": 1, "date": 7, "utc": true}
                ],
                "grid": false, "domain": false, "ticks": false, "tickSize": 0,
                "labelAngle": -45, "labelAlign": "right", "labelBaseline": "middle", "labelPadding": 28,
                "labelFont": "Lato", "labelFontSize": 27, "labelFontWeight": "bold", "labelColor": "#375623",
                "labelFlush": false, "labelOverlap": false, "labelBound": false
              }
            },
            "y": {
              "field": "contracts", "type": "quantitative", "stack": null,
              "scale": {"domain": [-350000, 450000], "nice": false, "zero": false},
              "axis": {
                "title": "Contracts", "format": ",d",
                "labelExpr": "replace(datum.label, '\u2212', '-')",
                "values": [-350000, -300000, -250000, -200000, -150000, -100000, -50000, 0, 50000, 100000, 150000, 200000, 250000, 300000, 350000, 400000, 450000],
                "grid": true, "gridColor": "#e2e2e2", "gridWidth": 1.5,
                "domain": false, "ticks": false, "tickSize": 0, "labelPadding": 27,
                "labelFont": "Lato", "labelFontSize": 26, "labelFontWeight": "bold", "labelColor": "#375623",
                "labelFlush": false, "labelOverlap": false,
                "titleFont": "Lato", "titleFontSize": 27.5, "titleFontWeight": "bold", "titleColor": "#375623",
                "titleAngle": -90, "titleX": -153, "titleBaseline": "middle"
              }
            },
            "fill": {
              "datum": "Managed Money", "type": "nominal",
              "scale": {"range": ["#375623"]},
              "legend": {
                "orient": "none", "legendX": 657, "legendY": -25, "title": null, "padding": 0,
                "symbolType": "M-1,-0.5H1V0.5H-1Z", "symbolSize": 1444, "symbolStrokeWidth": 0,
                "labelFont": "Lato", "labelFontSize": 27.5, "labelFontWeight": "bold", "labelColor": "#375623", "labelOffset": 3, "labelLimit": 500
              }
            }
          }
        },
        {
          "mark": {"type": "rule", "color": "#000000", "strokeWidth": 1.5},
          "encoding": {"y": {"datum": 0, "type": "quantitative"}}
        }
      ]
    },
    {
      "data": {"name": "corn"},
      "mark": {"type": "line", "strokeWidth": 4, "strokeJoin": "round"},
      "encoding": {
        "x": {
          "field": "date", "type": "temporal",
          "scale": {"type": "utc", "domain": [{"year": 2020, "month": 1, "date": 5, "utc": true}, {"year": 2024, "month": 3, "date": 8, "hours": 8, "utc": true}]},
          "axis": {
            "title": null,
            "labelExpr": "utcFormat(datum.value, '%b-%y')",
            "values": [
              {"year": 2020, "month": 1, "date": 7, "utc": true}, {"year": 2020, "month": 4, "date": 7, "utc": true}, {"year": 2020, "month": 7, "date": 7, "utc": true}, {"year": 2020, "month": 10, "date": 7, "utc": true},
              {"year": 2021, "month": 1, "date": 7, "utc": true}, {"year": 2021, "month": 4, "date": 7, "utc": true}, {"year": 2021, "month": 7, "date": 7, "utc": true}, {"year": 2021, "month": 10, "date": 7, "utc": true},
              {"year": 2022, "month": 1, "date": 7, "utc": true}, {"year": 2022, "month": 4, "date": 7, "utc": true}, {"year": 2022, "month": 7, "date": 7, "utc": true}, {"year": 2022, "month": 10, "date": 7, "utc": true},
              {"year": 2023, "month": 1, "date": 7, "utc": true}, {"year": 2023, "month": 4, "date": 7, "utc": true}, {"year": 2023, "month": 7, "date": 7, "utc": true}, {"year": 2023, "month": 10, "date": 7, "utc": true},
              {"year": 2024, "month": 1, "date": 7, "utc": true}
            ],
            "grid": false, "domain": false, "ticks": false, "tickSize": 0,
            "labelAngle": -45, "labelAlign": "right", "labelBaseline": "middle", "labelPadding": 28,
            "labelFont": "Lato", "labelFontSize": 27, "labelFontWeight": "bold", "labelColor": "#375623",
            "labelFlush": false, "labelOverlap": false, "labelBound": false
          }
        },
        "y": {
          "field": "price", "type": "quantitative",
          "scale": {"domain": [3, 8.5], "nice": false, "zero": false},
          "axis": {
            "orient": "right", "title": "Price ($/Bu)", "format": "$.2f",
            "values": [3, 3.5, 4, 4.5, 5, 5.5, 6, 6.5, 7, 7.5, 8, 8.5],
            "grid": false, "domain": false, "ticks": false, "tickSize": 0, "labelPadding": 29,
            "labelFont": "Lato", "labelFontSize": 26.5, "labelFontWeight": "bold", "labelColor": "#375623",
            "labelFlush": false, "labelOverlap": false,
            "titleFont": "Lato", "titleFontSize": 27.5, "titleFontWeight": "bold", "titleColor": "#375623",
            "titleAngle": -90, "titleX": 121, "titleBaseline": "middle"
          }
        },
        "stroke": {
          "datum": "Corn Price", "type": "nominal",
          "scale": {"range": ["#BF9000"]},
          "legend": {
            "orient": "none", "legendX": 936, "legendY": -25, "title": null, "padding": 0,
            "symbolType": "stroke", "symbolSize": 1225, "symbolStrokeWidth": 4,
            "labelFont": "Lato", "labelFontSize": 27.5, "labelFontWeight": "bold", "labelColor": "#375623", "labelOffset": 3, "labelLimit": 500
          }
        }
      }
    }
  ],
  "resolve": {"scale": {"y": "independent"}}
}
